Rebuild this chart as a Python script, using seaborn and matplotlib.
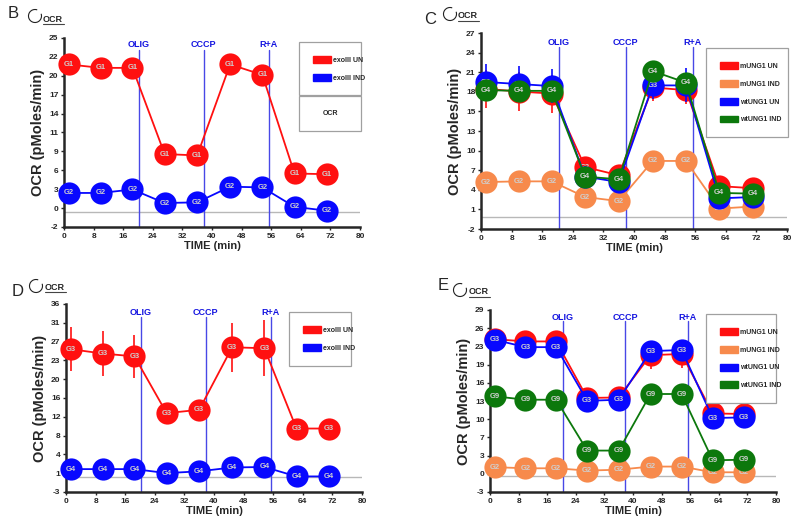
import numpy as np
import pandas as pd
import matplotlib
matplotlib.use("Agg")
import matplotlib.pyplot as plt
import seaborn as sns
from matplotlib.patches import Patch, Rectangle, Arc
from matplotlib.lines import Line2D

# measurement times (min) and injections
TIME = [1.3, 9.9, 18.5, 27.2, 36.0, 44.9, 53.6, 62.3, 71.0]
INJECTIONS = ["OLIG", "CCCP", "R+A"]
INJECTION_TIME = [20.3, 37.8, 55.3]
X_TICKS = [0, 8, 16, 24, 32, 40, 48, 56, 64, 72, 80]

# panel B (exoIII)
B_UN = [21.2, 20.7, 20.7, 8.3, 8.1, 21.2, 19.7, 5.5, 5.4]
B_UN_ERR = [0.5, 0.4, 0.5, 0.3, 0.3, 0.7, 0.6, 0.3, 0.3]
B_IND = [2.7, 2.7, 3.2, 1.25, 1.35, 3.6, 3.5, 0.7, 0.15]
B_IND_ERR = [1.2, 1.0, 0.5, 0.3, 0.3, 1.2, 1.3, 0.3, 0.3]
B_YLABELS = ["-2", "0", "3", "6", "9", "11", "14", "17", "20", "22", "25"]

# panel C (UNG1)
C_MUN = [18.8, 18.4, 18.1, 7.3, 6.1, 19.0, 18.6, 4.5, 4.2]
C_MUN_ERR = [2.8, 2.8, 2.8, 1.2, 0.8, 2.0, 2.0, 0.8, 0.5]
C_MIND = [5.1, 5.2, 5.2, 2.9, 2.3, 8.2, 8.2, 1.2, 1.5]
C_MIND_ERR = [0.5, 0.3, 0.3, 0.4, 0.3, 1.0, 1.0, 0.3, 0.3]
C_WUN = [19.8, 19.5, 19.2, 5.9, 5.1, 19.3, 19.3, 2.7, 2.9]
C_WUN_ERR = [2.6, 2.6, 2.5, 1.5, 1.0, 2.0, 2.5, 1.0, 0.8]
C_WIND = [18.6, 18.5, 18.5, 5.9, 5.5, 21.4, 19.7, 3.5, 3.4]
C_WIND_ERR = [0.5, 0.5, 0.5, 0.5, 0.5, 0.9, 0.5, 0.5, 0.5]
C_YLABELS = ["-2", "1", "4", "7", "10", "13", "15", "18", "21", "24", "27"]

# panel D (exoIII)
D_UN = [26.6, 25.7, 25.1, 13.3, 14.0, 27.0, 26.8, 10.1, 10.1]
D_UN_ERR = [4.6, 4.6, 4.5, 0.5, 0.5, 5.1, 5.8, 0.3, 0.3]
D_IND = [1.66, 1.66, 1.66, 0.83, 1.2, 2.0, 2.1, 0.14, 0.14]
D_IND_ERR = [0.3, 0.3, 0.3, 0.3, 0.3, 0.3, 0.3, 0.3, 0.3]
D_YLABELS = ["-3", "1", "4", "8", "12", "16", "20", "23", "27", "31", "36"]

# panel E (UNG1)
E_MUN = [23.9, 23.5, 23.5, 13.6, 13.7, 21.1, 21.3, 10.9, 10.8]
E_MUN_ERR = [1.5, 1.7, 1.7, 1.3, 1.4, 2.4, 2.5, 0.5, 0.5]
E_MIND = [1.5, 1.3, 1.3, 0.9, 1.05, 1.6, 1.6, 0.6, 0.6]
E_MIND_ERR = [0.3, 0.3, 0.3, 0.3, 0.3, 0.3, 0.3, 0.3, 0.3]
E_WUN = [23.8, 22.5, 22.5, 13.1, 13.3, 21.8, 22.0, 10.1, 10.2]
E_WUN_ERR = [1.0, 0.8, 0.8, 0.6, 0.6, 1.2, 1.4, 0.5, 0.5]
E_WIND = [13.9, 13.3, 13.3, 4.4, 4.4, 14.3, 14.3, 2.7, 2.8]
E_WIND_ERR = [0.4, 0.4, 0.4, 0.4, 0.4, 0.4, 0.4, 0.4, 0.4]
E_YLABELS = ["-3", "0", "3", "7", "10", "13", "16", "19", "23", "26", "29"]

RED = "#ff1010"
BLUE = "#0808ff"
ORANGE = "#f78a4c"
GREEN = "#0c780c"
INJ_COLOR = "#4848e6"

sns.set_theme(style="ticks")
plt.rcParams["font.family"] = ["Liberation Sans", "DejaVu Sans"]

W, H = 800, 525
fig = plt.figure(figsize=(W / 100, H / 100), dpi=100)


def px_rect(left, top, right, bottom):
    return [left / W, 1 - bottom / H, (right - left) / W, (bottom - top) / H]


def draw_panel(ax, series, ylim, ylabels, leg_box, inj_y, line_top, ocr_box=None):
    rows = []
    for name, vals, err, tag, color in series:
        for t, v in zip(TIME, vals):
            rows.append({"time": t, "ocr": v, "group": name})
    df = pd.DataFrame(rows)
    names = [s[0] for s in series]
    colors = [s[4] for s in series]

    ax.axhline(0, color="#b8b8b8", lw=1.0, zorder=1)
    for x in INJECTION_TIME:
        ax.axvline(x, ymin=0, ymax=line_top, color=INJ_COLOR, lw=1.0, zorder=1.5)
    for lab, x in zip(INJECTIONS, INJECTION_TIME):
        ax.text(x, inj_y, lab, transform=ax.get_xaxis_transform(), ha="center",
                va="center", color="#1515e0", fontsize=6.5, fontweight="bold")

    sns.lineplot(data=df, x="time", y="ocr", hue="group", hue_order=names,
                 palette=colors, marker="o", markersize=16, markeredgewidth=0,
                 linewidth=1.3, sort=False, legend=False, ax=ax)
    for i, line in enumerate(ax.lines[-len(series):]):
        line.set_zorder(3 + i)
        line.set_clip_on(False)

    for i, (name, vals, err, tag, color) in enumerate(series):
        ax.errorbar(TIME, vals, yerr=err, fmt="none", ecolor=color,
                    elinewidth=1.2, capsize=0, zorder=2.8 + i, clip_on=False)
        for t, v in zip(TIME, vals):
            ax.text(t, v, tag, ha="center", va="center", fontsize=5.5,
                    fontweight="bold", color="#d0d0d0", zorder=3.5 + i)

    ax.set_xlim(0, 80)
    ax.set_ylim(*ylim)
    ax.set_xticks(X_TICKS)
    ax.set_xticklabels([str(x) for x in X_TICKS])
    ax.set_yticks(np.linspace(ylim[0], ylim[1], len(ylabels)))
    ax.set_yticklabels(ylabels)
    for lab in ax.get_xticklabels() + ax.get_yticklabels():
        lab.set_fontweight("bold")
    ax.tick_params(labelsize=6, length=2.5, width=1, pad=1.5)
    ax.set_xlabel("TIME (min)", fontsize=8, fontweight="bold", labelpad=1)
    ax.set_ylabel("OCR (pMoles/min)", fontsize=10.5, fontweight="bold", labelpad=3)
    sns.despine(ax=ax)
    for s in ["left", "bottom"]:
        ax.spines[s].set_linewidth(1.8)
    ax.grid(False)

    handles = [Patch(facecolor=c, edgecolor=c, label=n) for n, c in zip(names, colors)]
    x0, y0, w, h = leg_box
    leg = ax.legend(handles=handles, loc="upper left", bbox_to_anchor=(x0, y0, w, h),
                    mode="expand", borderaxespad=0, frameon=True, fancybox=False,
                    edgecolor="#a0a0a0", framealpha=1, handlelength=2.6,
                    handleheight=1.15, handletextpad=0.35, labelspacing=1.45,
                    borderpad=2.0, prop={"size": 5, "weight": "bold"})
    leg.get_frame().set_linewidth(0.9)
    leg.set_zorder(20)

    if ocr_box is not None:
        bx, by, bw, bh = ocr_box
        ax.add_patch(Rectangle((bx, by), bw, bh, transform=ax.transAxes,
                               facecolor="white", edgecolor="#a0a0a0", lw=0.9,
                               clip_on=False, zorder=19))
        ax.text(bx + bw / 2, by + bh / 2, "OCR", transform=ax.transAxes,
                ha="center", va="center", fontsize=5, fontweight="bold", zorder=21)


def header(letter, lx, ly, cx, cy, ox, oy):
    fig.text(lx / W, 1 - ly / H, letter, fontsize=12, ha="left", va="center")
    arc = Arc((cx / 100, (H - cy) / 100), 0.13, 0.13, theta1=70, theta2=380,
              transform=fig.dpi_scale_trans, color="#222222", lw=0.8)
    fig.add_artist(arc)
    fig.text(ox / W, 1 - oy / H, "OCR", fontsize=6.5, fontweight="bold",
             ha="left", va="center")
    fig.add_artist(Line2D([ox / W, (ox + 21) / W], [1 - (oy + 5) / H, 1 - (oy + 5) / H],
                          transform=fig.transFigure, color="#444444", lw=0.8))


axB = fig.add_axes(px_rect(64, 38, 360, 227))
draw_panel(axB,
           [("exoIII UN", B_UN, B_UN_ERR, "G1", RED),
            ("exoIII IND", B_IND, B_IND_ERR, "G2", BLUE)],
           (-2.2, 25), B_YLABELS,
           (0.794, 0.693, 0.21, 0.286), 0.963, 0.937,
           ocr_box=(0.794, 0.508, 0.21, 0.185))

axC = fig.add_axes(px_rect(481, 33, 787, 229))
draw_panel(axC,
           [("mUNG1 UN", C_MUN, C_MUN_ERR, "G3", RED),
            ("mUNG1 IND", C_MIND, C_MIND_ERR, "G2", ORANGE),
            ("wtUNG1 UN", C_WUN, C_WUN_ERR, "G3", BLUE),
            ("wtUNG1 IND", C_WIND, C_WIND_ERR, "G4", GREEN)],
           (-1.8, 27), C_YLABELS,
           (0.735, 0.454, 0.268, 0.469), 0.954, 0.93)

axD = fig.add_axes(px_rect(66, 304, 362, 492))
draw_panel(axD,
           [("exoIII UN", D_UN, D_UN_ERR, "G3", RED),
            ("exoIII IND", D_IND, D_IND_ERR, "G4", BLUE)],
           (-3.1, 36), D_YLABELS,
           (0.753, 0.702, 0.21, 0.255), 0.957, 0.93)

axE = fig.add_axes(px_rect(490, 310, 776, 492))
draw_panel(axE,
           [("mUNG1 UN", E_MUN, E_MUN_ERR, "G3", RED),
            ("mUNG1 IND", E_MIND, E_MIND_ERR, "G2", ORANGE),
            ("wtUNG1 UN", E_WUN, E_WUN_ERR, "G3", BLUE),
            ("wtUNG1 IND", E_WIND, E_WIND_ERR, "G9", GREEN)],
           (-2.85, 29), E_YLABELS,
           (0.755, 0.511, 0.245, 0.467), 0.96, 0.94)

header("B", 8, 14, 35, 16, 43, 19)
header("C", 424, 19, 450, 14, 458, 16)
header("D", 12, 291, 36, 286, 45, 287)
header("E", 438, 286, 460, 290, 469, 292)

fig.savefig("out.png", dpi=100)
